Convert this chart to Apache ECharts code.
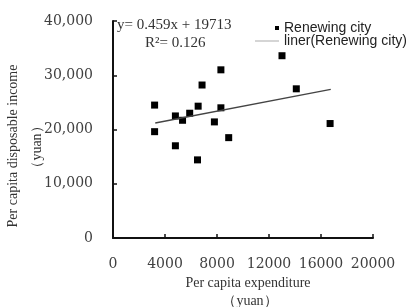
<!DOCTYPE html>
<html>
<head>
<meta charset="utf-8">
<script src="https://cdn.jsdelivr.net/npm/echarts@6/dist/echarts.min.js"></script>
<style>
  html, body { margin: 0; padding: 0; background: #fff; }
  #chart { width: 410px; height: 307px; }
</style>
</head>
<body>
<div id="chart"></div>
<script>
// 数据
var expenditure = [3200, 3200, 4800, 4800, 5350, 5900, 6500, 6550, 6850, 7800, 8300, 8300, 8900, 13000, 14100, 16700];
var income = [24500, 19600, 22500, 17000, 21700, 23000, 14400, 24300, 28200, 21400, 31000, 24000, 18500, 33600, 27500, 21100];
var trendX = [3250, 16750];
var trendY = [21200, 27400];
var xTicks = [0, 4000, 8000, 12000, 16000, 20000];
var yTicks = [0, 10000, 20000, 30000, 40000];

var points = expenditure.map(function (v, i) { return [v, income[i]]; });
var trend = trendX.map(function (v, i) { return [v, trendY[i]]; });

var chart = echarts.init(document.getElementById('chart'));

var labelFont = { fontFamily: 'DejaVu Serif', fontSize: 14, color: '#404040' };
var titleFont = 'Liberation Serif';

var option = {
  animation: false,
  grid: { left: 113, right: 37, top: 21, bottom: 69 },
  // 图例
  legend: [{
    data: ['Renewing city'],
    icon: 'rect',
    itemWidth: 4,
    itemHeight: 4,
    left: 270,
    top: 16,
    selectedMode: false,
    textStyle: { fontFamily: 'Liberation Sans', fontSize: 14, color: '#222' }
  }, {
    data: ['liner(Renewing city)'],
    icon: 'rect',
    itemWidth: 24,
    itemHeight: 1,
    left: 250,
    top: 29,
    selectedMode: false,
    itemStyle: { color: '#aaa' },
    textStyle: { fontFamily: 'Liberation Sans', fontSize: 14, color: '#222' }
  }],
  xAxis: {
    type: 'value',
    min: xTicks[0],
    max: xTicks[xTicks.length - 1],
    interval: 4000,
    splitLine: { show: false },
    axisLine: { lineStyle: { color: '#111', width: 2 } },
    axisTick: { inside: true, length: 4, lineStyle: { color: '#111', width: 1.5 } },
    axisLabel: Object.assign({
      margin: 19,
      formatter: function (v) { return String(v); }
    }, labelFont)
  },
  yAxis: {
    type: 'value',
    min: yTicks[0],
    max: yTicks[yTicks.length - 1],
    interval: 10000,
    splitLine: { show: false },
    axisLine: { show: true, lineStyle: { color: '#111', width: 2 } },
    axisTick: { show: true, inside: true, length: 4, lineStyle: { color: '#111', width: 1.5 } },
    axisLabel: Object.assign({
      margin: 20,
      formatter: function (v) { return v.toLocaleString('en-US'); }
    }, labelFont)
  },
  graphic: [
    // 回归方程
    {
      type: 'text', left: 117, top: 18,
      style: { text: 'y= 0.459x + 19713', font: '15px "Liberation Serif"', fill: '#333' }
    },
    {
      type: 'text', left: 145, top: 36,
      style: { text: 'R²= 0.126', font: '15px "Liberation Serif"', fill: '#333' }
    },
    // x轴标题
    {
      type: 'text', x: 248, y: 283,
      style: { text: 'Per capita expenditure', font: '14px "' + titleFont + '"', fill: '#333', align: 'center', verticalAlign: 'middle' }
    },
    {
      type: 'text', x: 250, y: 301,
      style: { text: '（yuan）', font: '14px "' + titleFont + '"', fill: '#333', align: 'center', verticalAlign: 'middle' }
    },
    // y轴标题
    {
      type: 'text', x: 13, y: 146, rotation: Math.PI / 2,
      style: { text: 'Per capita disposable income', font: '14px "' + titleFont + '"', fill: '#333', align: 'center', verticalAlign: 'middle' }
    },
    {
      type: 'text', x: 37, y: 147, rotation: Math.PI / 2,
      style: { text: '（yuan）', font: '14px "' + titleFont + '"', fill: '#333', align: 'center', verticalAlign: 'middle' }
    }
  ],
  series: [{
    name: 'Renewing city',
    type: 'scatter',
    symbol: 'rect',
    symbolSize: 7,
    itemStyle: { color: '#000', opacity: 1 },
    data: points
  }, {
    name: 'liner(Renewing city)',
    type: 'line',
    symbol: 'none',
    lineStyle: { color: '#444', width: 1.3 },
    itemStyle: { color: '#aaa' },
    data: trend
  }]
};
chart.setOption(option);
</script>
</body>
</html>
